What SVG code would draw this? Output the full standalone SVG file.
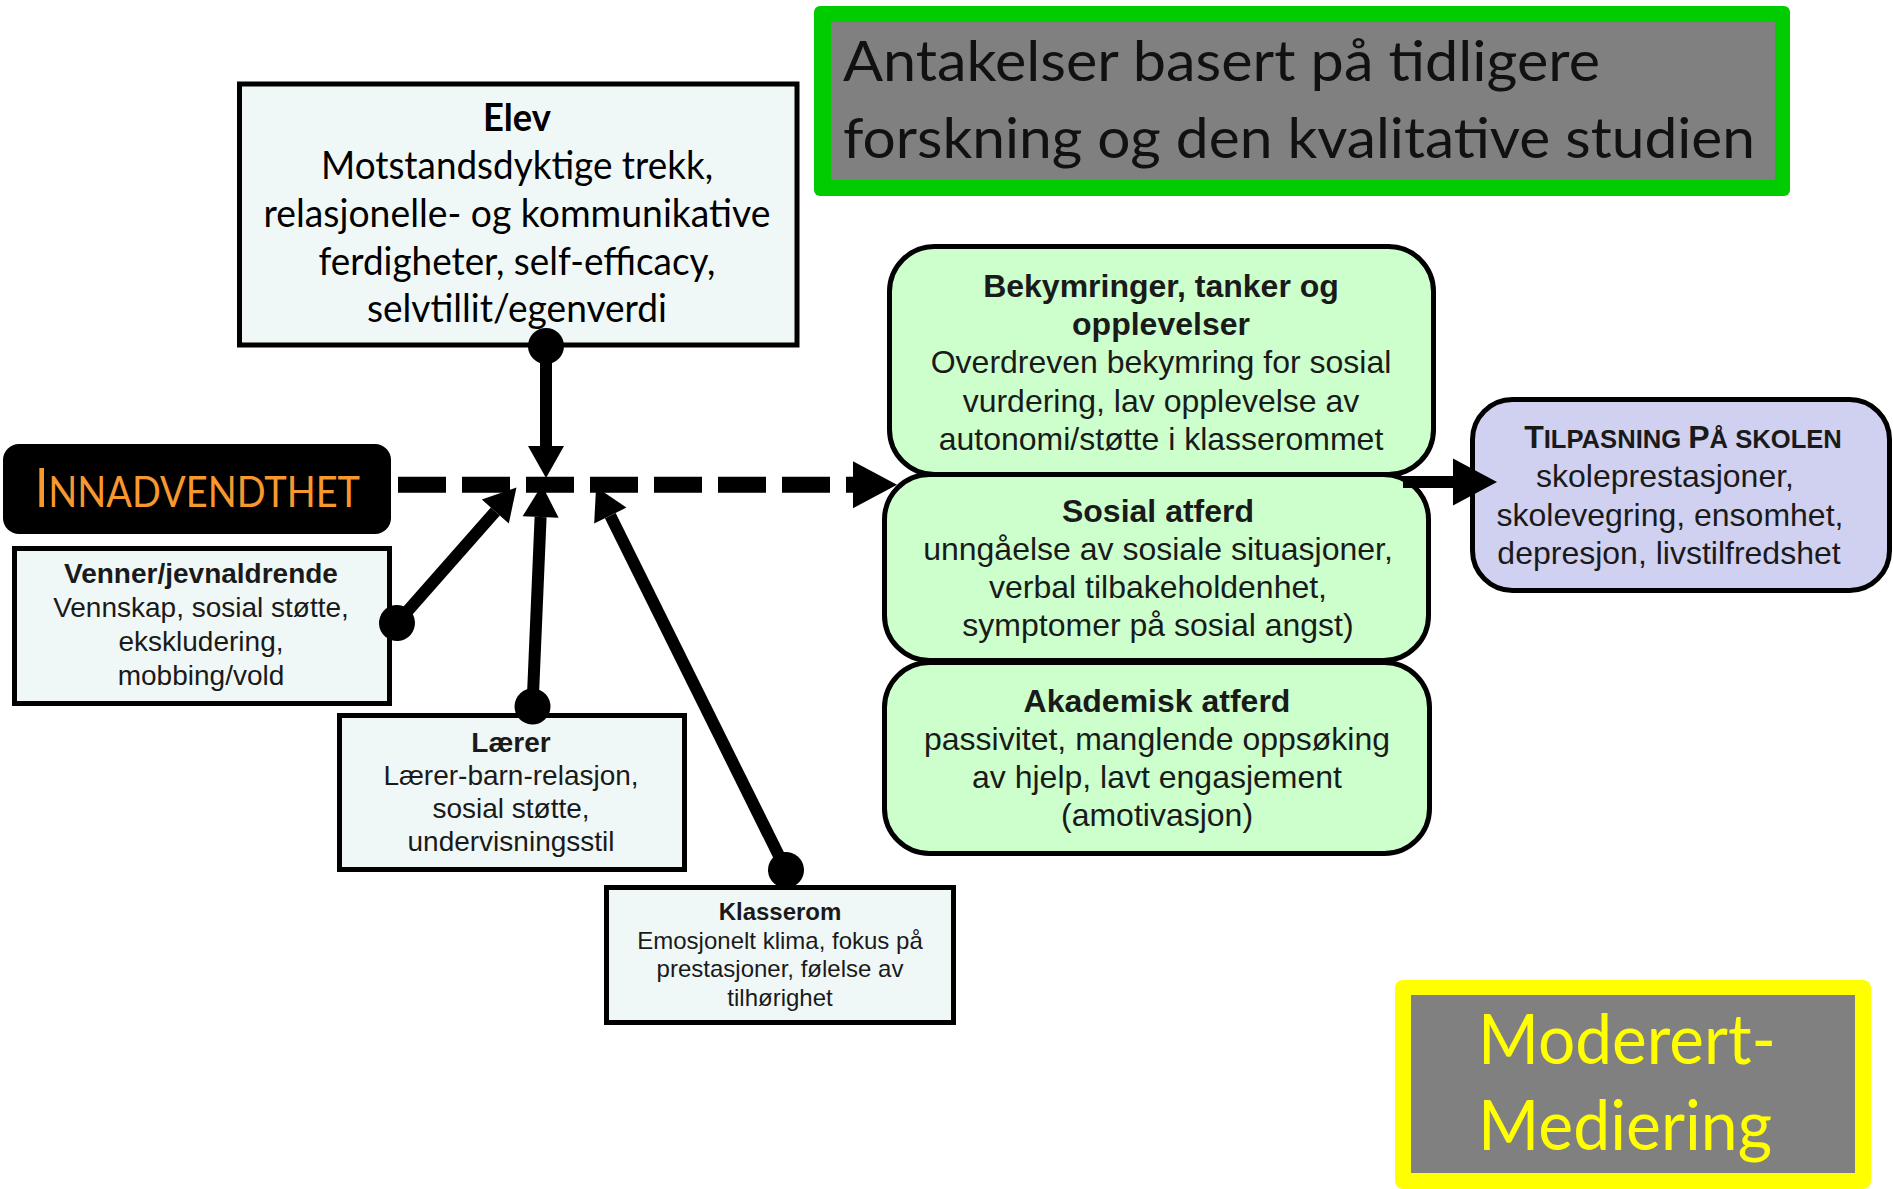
<svg xmlns="http://www.w3.org/2000/svg" width="1893" height="1189" viewBox="0 0 1893 1189">
<style>
.box{stroke:#000;stroke-width:5}
.light{fill:#f0f8f7}
.green{fill:#ccffcc}
.purple{fill:#d0d0f0}
.ar{font-family:"Liberation Sans",Arial,sans-serif;fill:#1a1a1a;text-anchor:middle}
.cal{font-family:Lato,"Open Sans",sans-serif}
.b{font-weight:bold}
.conn{stroke:#000;stroke-width:12;fill:none}
</style>
<defs>
<marker id="head" markerUnits="userSpaceOnUse" markerWidth="40" markerHeight="40" refX="0" refY="18" orient="auto" overflow="visible"><path d="M0,0 L32,18 L0,36 Z" fill="#000"/></marker>
<marker id="bighead" markerUnits="userSpaceOnUse" markerWidth="50" markerHeight="50" refX="0" refY="23.5" orient="auto" overflow="visible"><path d="M0,0 L44,23.5 L0,47 Z" fill="#000"/></marker>
<marker id="dot" markerUnits="userSpaceOnUse" markerWidth="40" markerHeight="40" refX="20" refY="20" orient="auto" overflow="visible"><circle cx="20" cy="20" r="18" fill="#000"/></marker>
</defs>
<rect width="1893" height="1189" fill="#fff"/>

<g id="title">
<rect x="814" y="6" width="976" height="190" rx="6" fill="#00cc00"/>
<rect x="831" y="22" width="944" height="158" fill="#808080"/>
<text class="cal" x="843" y="81" font-size="57" fill="#111" textLength="757" lengthAdjust="spacingAndGlyphs">Antakelser basert på tidligere</text>
<text class="cal" x="843" y="158" font-size="57" fill="#111" textLength="912" lengthAdjust="spacingAndGlyphs">forskning og den kvalitative studien</text>
</g>

<g id="elev">
<rect class="box light" x="239.5" y="84" width="557.5" height="261"/>
<text class="cal b" x="517" y="131" font-size="38" text-anchor="middle" fill="#000" textLength="68" lengthAdjust="spacingAndGlyphs">Elev</text>
<text class="cal" x="517" y="179" font-size="38" text-anchor="middle" fill="#000" textLength="392" lengthAdjust="spacingAndGlyphs">Motstandsdyktige trekk,</text>
<text class="cal" x="517" y="227" font-size="38" text-anchor="middle" fill="#000" textLength="507" lengthAdjust="spacingAndGlyphs">relasjonelle- og kommunikative</text>
<text class="cal" x="517" y="275" font-size="38" text-anchor="middle" fill="#000" textLength="397" lengthAdjust="spacingAndGlyphs">ferdigheter, self-efficacy,</text>
<text class="cal" x="517" y="322" font-size="38" text-anchor="middle" fill="#000" textLength="300" lengthAdjust="spacingAndGlyphs">selvtillit/egenverdi</text>
</g>

<g id="innadvendthet">
<rect x="3" y="444" width="388" height="90" rx="16" fill="#000"/>
<text class="cal" x="35" y="507" font-size="54" fill="#f7982f" textLength="325" lengthAdjust="spacingAndGlyphs">I<tspan font-size="43">NNADVENDTHET</tspan></text>
</g>

<g id="venner">
<rect class="box light" x="14.5" y="548.5" width="375" height="155"/>
<text class="ar" x="201" y="583" font-size="28"><tspan class="b">Venner/jevnaldrende</tspan><tspan x="201" dy="34">Vennskap, sosial støtte,</tspan><tspan x="201" dy="34">ekskludering,</tspan><tspan x="201" dy="34">mobbing/vold</tspan></text>
</g>

<g id="laerer">
<rect class="box light" x="339.5" y="715.5" width="345" height="154"/>
<text class="ar" x="511" y="752" font-size="28"><tspan class="b">Lærer</tspan><tspan x="511" dy="33">Lærer-barn-relasjon,</tspan><tspan x="511" dy="33">sosial støtte,</tspan><tspan x="511" dy="33">undervisningsstil</tspan></text>
</g>

<g id="klasserom">
<rect class="box light" x="606.5" y="887.5" width="347" height="135"/>
<text class="ar" x="780" y="920" font-size="24"><tspan class="b">Klasserom</tspan><tspan x="780" dy="28.5">Emosjonelt klima, fokus på</tspan><tspan x="780" dy="28.5">prestasjoner, følelse av</tspan><tspan x="780" dy="28.5">tilhørighet</tspan></text>
</g>

<g id="bekymringer">
<rect class="box green" x="889.5" y="246.5" width="544" height="228" rx="45"/>
<text class="ar" x="1161" y="297" font-size="32"><tspan class="b">Bekymringer, tanker og</tspan><tspan class="b" x="1161" dy="38">opplevelser</tspan><tspan x="1161" dy="38">Overdreven bekymring for sosial</tspan><tspan x="1161" dy="39">vurdering, lav opplevelse av</tspan><tspan x="1161" dy="38">autonomi/støtte i klasserommet</tspan></text>
</g>

<g id="sosial">
<rect class="box green" x="884.5" y="474.5" width="544" height="186" rx="45"/>
<text class="ar" x="1158" y="522" font-size="32"><tspan class="b">Sosial atferd</tspan><tspan x="1158" dy="38">unngåelse av sosiale situasjoner,</tspan><tspan x="1158" dy="38">verbal tilbakeholdenhet,</tspan><tspan x="1158" dy="38">symptomer på sosial angst)</tspan></text>
</g>

<g id="akademisk">
<rect class="box green" x="884.5" y="662.5" width="545" height="191" rx="45"/>
<text class="ar" x="1157" y="712" font-size="32"><tspan class="b">Akademisk atferd</tspan><tspan x="1157" dy="38">passivitet, manglende oppsøking</tspan><tspan x="1157" dy="38">av hjelp, lavt engasjement</tspan><tspan x="1157" dy="38">(amotivasjon)</tspan></text>
</g>

<g id="tilpasning">
<rect class="box purple" x="1472.5" y="399.5" width="417" height="191" rx="40"/>
<text class="ar b" x="1683" y="448" font-size="32">T<tspan font-size="25.6">ILPASNING </tspan>P<tspan font-size="25.6">Å SKOLEN</tspan></text>
<text class="ar" x="1665" y="487" font-size="32">skoleprestasjoner,</text>
<text class="ar" x="1670" y="525.5" font-size="32">skolevegring, ensomhet,</text>
<text class="ar" x="1669" y="564" font-size="32">depresjon, livstilfredshet</text>
</g>

<g id="moderert">
<rect x="1395" y="980" width="476" height="209" rx="8" fill="#ffff00"/>
<rect x="1411" y="995" width="444" height="178" fill="#808080"/>
<text class="cal" x="1478" y="1064" font-size="70" fill="#ffff00" textLength="298" lengthAdjust="spacingAndGlyphs">Moderert-</text>
<text class="cal" x="1478" y="1150" font-size="70" fill="#ffff00" textLength="294" lengthAdjust="spacingAndGlyphs">Mediering</text>
</g>

<g id="connectors">
<line x1="398" y1="484.7" x2="853" y2="484.7" stroke="#000" stroke-width="16" stroke-dasharray="48 16" marker-end="url(#bighead)"/>
<line class="conn" x1="546" y1="346" x2="546" y2="446" marker-start="url(#dot)" marker-end="url(#head)"/>
<line class="conn" x1="397" y1="623" x2="495.3" y2="511.5" marker-start="url(#dot)" marker-end="url(#head)"/>
<line class="conn" x1="532.5" y1="706.5" x2="540.6" y2="517" marker-start="url(#dot)" marker-end="url(#head)"/>
<line class="conn" x1="786" y1="870" x2="610.3" y2="515.6" marker-start="url(#dot)" marker-end="url(#head)"/>
<line class="conn" x1="1403" y1="482" x2="1453" y2="482" marker-end="url(#bighead)"/>
</g>
</svg>
